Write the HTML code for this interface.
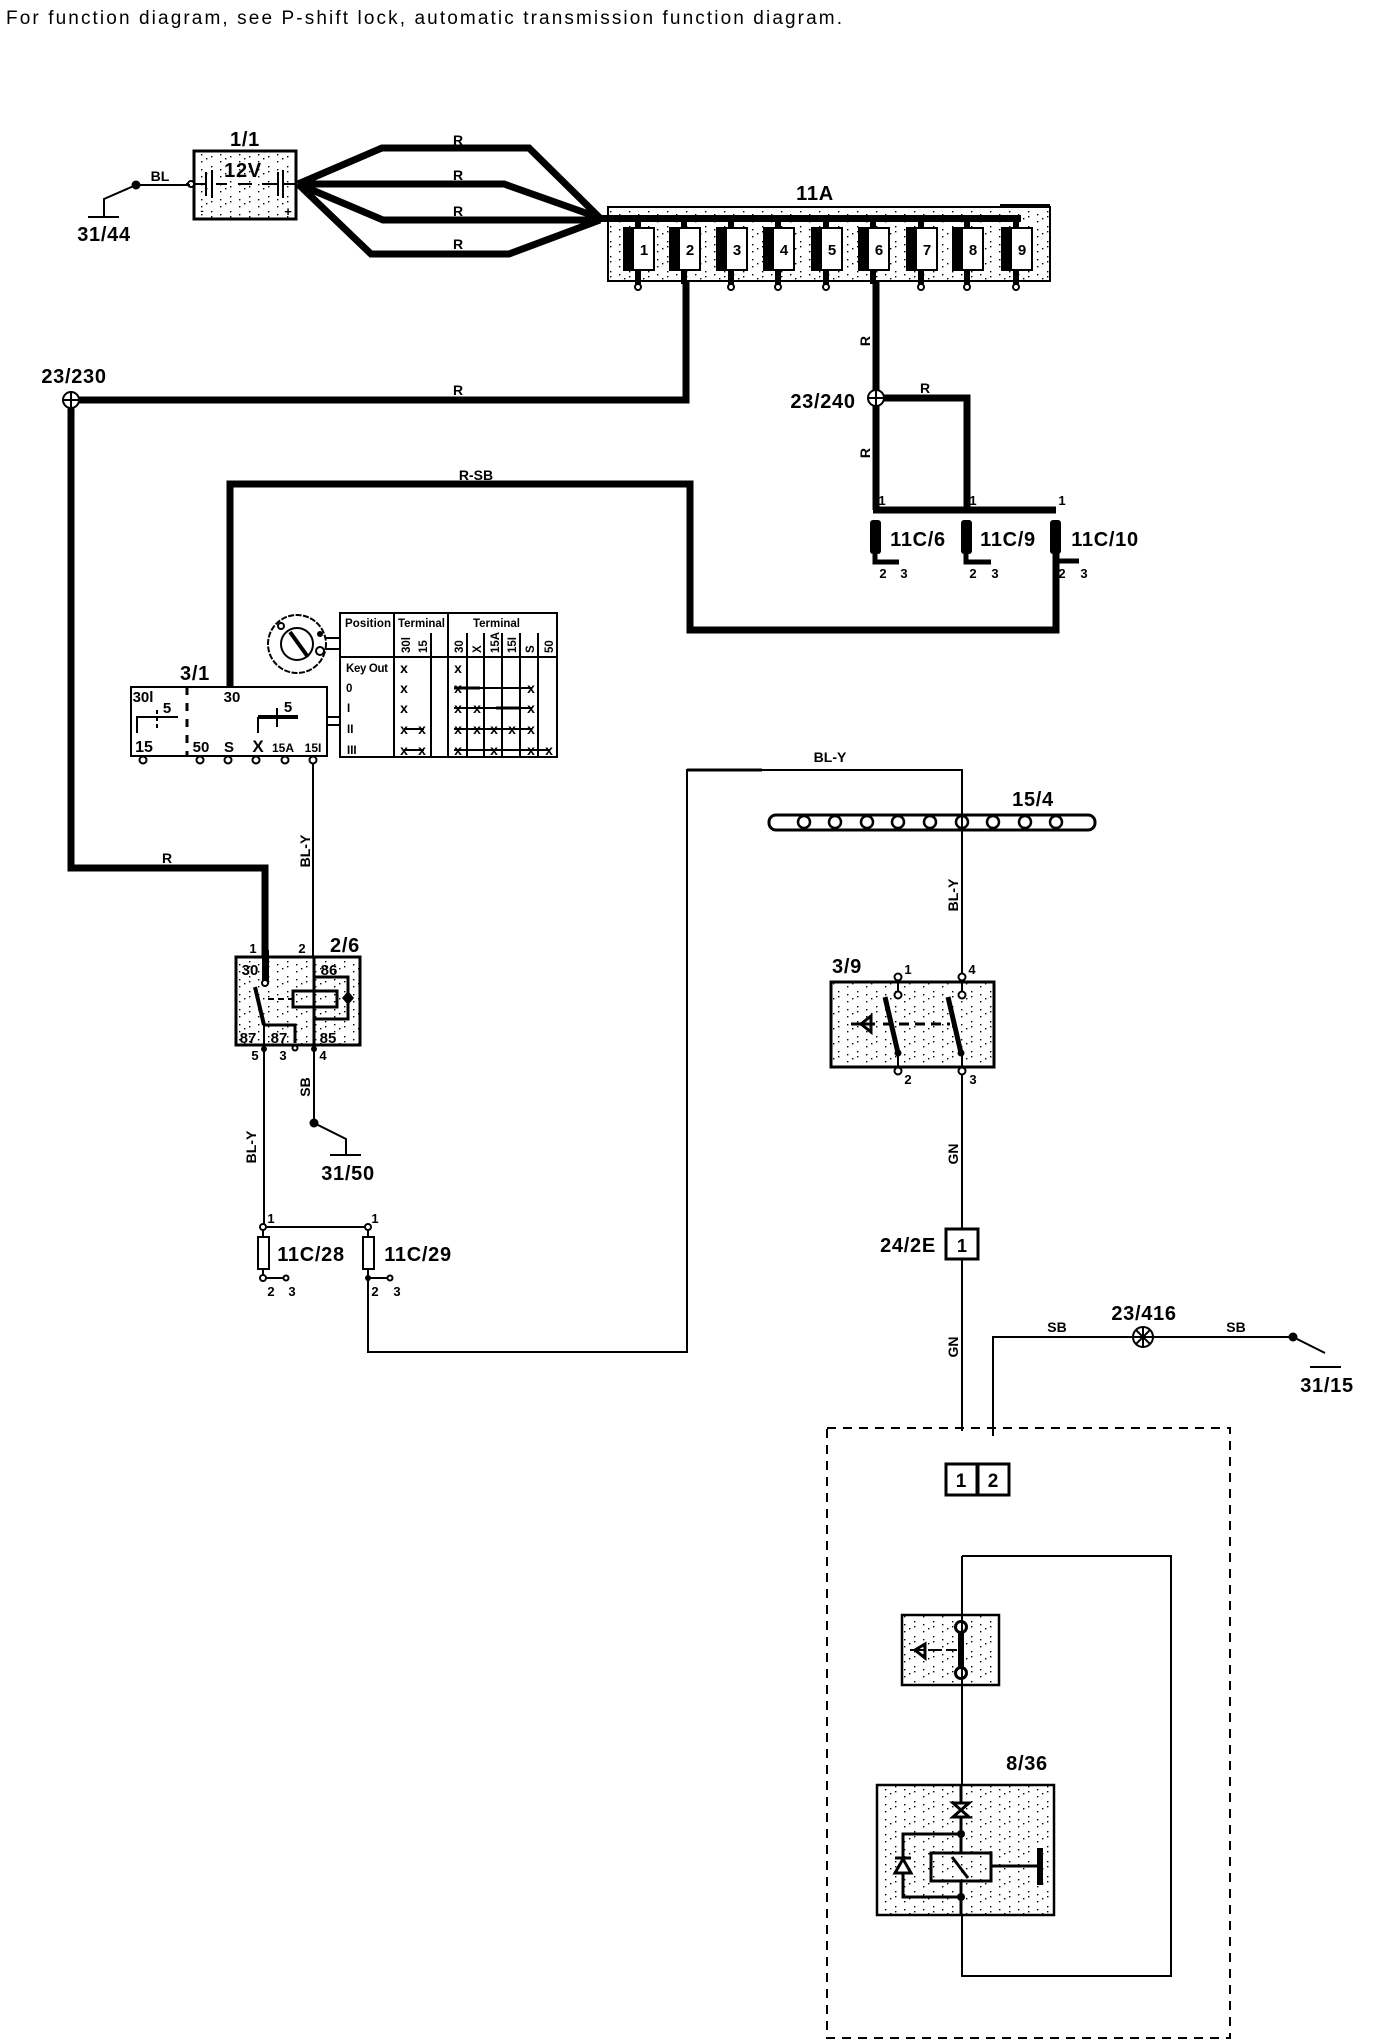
<!DOCTYPE html>
<html><head><meta charset="utf-8"><style>
html,body{margin:0;padding:0;background:#fff}
svg{display:block}
text{font-family:"Liberation Sans",sans-serif;fill:#000}
.b{font-weight:bold;font-size:20px;letter-spacing:.7px;text-anchor:middle}
.s{font-size:14px;text-anchor:middle;font-weight:bold}
.n{font-size:13px;text-anchor:middle;font-weight:bold}
.p{font-size:15px;text-anchor:middle;font-weight:bold}
.tb{font-size:11.5px;font-weight:bold}
.x{font-size:14px;font-weight:bold;text-anchor:middle}
.w{fill:none;stroke:#000;stroke-width:7;stroke-linejoin:miter}
.t{fill:none;stroke:#000;stroke-width:2}
.m{fill:none;stroke:#000;stroke-width:3}
.h{fill:none;stroke:#000;stroke-width:4}
.o{fill:#fff;stroke:#000;stroke-width:2}
.k{fill:#000}
</style></head><body>
<svg width="1376" height="2044" viewBox="0 0 1376 2044" xmlns="http://www.w3.org/2000/svg">
<defs>
<pattern id="d" width="19" height="15" patternUnits="userSpaceOnUse">
<rect width="19" height="15" fill="#fff"/>
<rect x="2" y="1" width="1.4" height="1.4" fill="#000"/><rect x="2" y="6" width="1.4" height="1.4" fill="#000"/>
<rect x="11" y="4" width="1.4" height="1.4" fill="#000"/><rect x="11" y="11" width="1.4" height="1.4" fill="#000"/>
<rect x="16" y="8" width="1.4" height="1.4" fill="#000"/>
</pattern>
<g id="fu"><rect x="-8" y="218" width="6" height="66" fill="#000"/><rect x="-19" y="228" width="30" height="42" fill="#fff" stroke="#000" stroke-width="2"/><rect x="-19" y="228" width="10" height="42" fill="#000"/></g>
<g id="pin"><circle cx="-5" cy="287" r="3" class="o"/></g>
</defs>

<text x="6" y="24" font-size="19" textLength="836">For function diagram, see P-shift lock, automatic transmission function diagram.</text>

<!-- battery -->
<rect x="194" y="151" width="102" height="68" fill="url(#d)" stroke="#000" stroke-width="3"/>
<text class="b" x="245" y="146">1/1</text>
<text class="b" x="243" y="177">12V</text>
<path class="t" d="M186 184H206M212 170V198M206 172V196M216 184H227M238 184H252M262 184H278M278 172V196M283 170V198M283 184H296"/>
<text x="202" y="214" font-size="10" font-weight="bold" text-anchor="middle">-</text>
<text x="288" y="216" font-size="13" font-weight="bold" text-anchor="middle">+</text>
<circle cx="191" cy="184" r="3" class="o"/>
<path class="t" d="M136 185H190"/>
<circle cx="136" cy="185" r="4.5" class="k"/>
<path class="t" d="M136 185L104 199V217M88 217H119"/>
<text class="s" x="160" y="181">BL</text>
<text class="b" x="104" y="241">31/44</text>

<!-- battery wires -->
<path class="w" d="M298 184L382 148H529L600 218"/>
<path class="w" d="M298 184H504L600 218"/>
<path class="w" d="M298 184L383 220H600"/>
<path class="w" d="M298 184L371 254H509L600 220"/>
<text class="s" x="458" y="145">R</text><text class="s" x="458" y="180">R</text>
<text class="s" x="458" y="216">R</text><text class="s" x="458" y="249">R</text>

<!-- 11A -->
<rect x="608" y="207" width="442" height="74" fill="url(#d)" stroke="#000" stroke-width="2"/>
<text class="b" x="815" y="200">11A</text>
<path d="M1000 205H1050" stroke="#000" stroke-width="2"/>
<use href="#fu" x="643"/><use href="#fu" x="689"/><use href="#fu" x="736"/><use href="#fu" x="783"/><use href="#fu" x="831"/><use href="#fu" x="878"/><use href="#fu" x="926"/><use href="#fu" x="972"/><use href="#fu" x="1021"/>
<rect x="598" y="215" width="423" height="7" fill="#000"/>
<use href="#pin" x="643"/><use href="#pin" x="736"/><use href="#pin" x="783"/><use href="#pin" x="831"/><use href="#pin" x="926"/><use href="#pin" x="972"/><use href="#pin" x="1021"/>
<text class="p" x="644" y="255">1</text><text class="p" x="690" y="255">2</text><text class="p" x="737" y="255">3</text><text class="p" x="784" y="255">4</text><text class="p" x="832" y="255">5</text><text class="p" x="879" y="255">6</text><text class="p" x="927" y="255">7</text><text class="p" x="973" y="255">8</text><text class="p" x="1022" y="255">9</text>

<!-- main wires -->
<path class="w" d="M686 281V400H71V868H265V983"/>
<circle cx="71" cy="400" r="8" fill="#fff" stroke="#000" stroke-width="2"/>
<path class="t" d="M63 400H79M71 392V408"/>
<text class="b" x="74" y="383">23/230</text>
<text class="s" x="458" y="395">R</text>
<text class="s" x="167" y="863">R</text>

<path class="w" d="M876 281V510M876 398H967V510M873 510H1056"/>
<circle cx="876" cy="398" r="8" fill="#fff" stroke="#000" stroke-width="2"/>
<path class="t" d="M868 398H884M876 390V406"/>
<text class="b" x="823" y="408">23/240</text>
<text class="s" x="925" y="393">R</text>
<text class="s" transform="translate(870,341) rotate(-90)">R</text>
<text class="s" transform="translate(870,453) rotate(-90)">R</text>

<rect x="870" y="520" width="11" height="34" rx="3" class="k"/>
<rect x="961" y="520" width="11" height="34" rx="3" class="k"/>
<rect x="1050" y="520" width="11" height="34" rx="3" class="k"/>
<path class="h" d="M875 554V562H899" style="stroke-width:5"/>
<path class="h" d="M966 554V562H991" style="stroke-width:5"/>
<path class="h" d="M1055 554V561H1079" style="stroke-width:5"/>
<text class="n" x="882" y="505">1</text><text class="n" x="973" y="505">1</text><text class="n" x="1062" y="505">1</text>
<text class="n" x="883" y="578">2</text><text class="n" x="904" y="578">3</text><text class="n" x="973" y="578">2</text><text class="n" x="995" y="578">3</text><text class="n" x="1062" y="578">2</text><text class="n" x="1084" y="578">3</text>
<text class="b" x="918" y="546">11C/6</text><text class="b" x="1008" y="546">11C/9</text><text class="b" x="1105" y="546">11C/10</text>

<path class="w" d="M230 687V484H690V630H1056V553"/>
<text class="s" x="476" y="480">R-SB</text>

<!-- 3/1 ignition -->
<rect x="131" y="687" width="196" height="69" fill="#fff" stroke="#000" stroke-width="2"/>
<path class="m" d="M187 687V756" stroke-dasharray="8 8"/>
<text class="b" x="195" y="680">3/1</text>
<text class="p" x="143" y="702">30l</text><text class="p" x="232" y="702">30</text>
<text class="p" x="167" y="713">5</text><text class="p" x="288" y="712">5</text>
<text class="p" x="144" y="752" style="font-size:16px">15</text><text class="p" x="201" y="752">50</text><text class="p" x="229" y="752">S</text><text class="p" x="258" y="752" style="font-size:17px">X</text><text class="p" x="283" y="752" style="font-size:12px">15A</text><text class="p" x="313" y="752" style="font-size:12px">15I</text>
<path class="t" d="M137 733V717H178"/>
<path class="t" d="M157 710V728" stroke-dasharray="4 3"/>
<path class="h" d="M258 717H298"/>
<path class="t" d="M258 717V733M277 708V727"/>
<circle cx="143" cy="760" r="3.5" class="o"/><circle cx="200" cy="760" r="3.5" class="o"/><circle cx="228" cy="760" r="3.5" class="o"/><circle cx="256" cy="760" r="3.5" class="o"/><circle cx="285" cy="760" r="3.5" class="o"/><circle cx="313" cy="760" r="3.5" class="o"/>
<path class="t" d="M327 717H341M327 725H341M324 638H341M324 649H341"/>

<!-- key -->
<circle cx="297" cy="644" r="29" fill="#fff" stroke="#000" stroke-width="2" stroke-dasharray="6 1.5"/>
<circle cx="297" cy="644" r="16" class="o"/>
<path d="M290 632L308 657" stroke="#000" stroke-width="4"/>
<circle cx="281" cy="626" r="3" class="o"/><circle cx="320" cy="634" r="3" class="k"/><circle cx="320" cy="651" r="4" class="o"/>

<!-- table -->
<rect x="340" y="613" width="217" height="144" fill="#fff" stroke="#000" stroke-width="2"/>
<path class="t" d="M340 657H557M394 613V757M448 613V757M431 633V757M467 633V757M484 633V757M502 633V757M520 633V757M538 633V757"/>
<text class="tb" x="345" y="627" textLength="46">Position</text>
<text class="tb" x="398" y="627" textLength="47">Terminal</text>
<text class="tb" x="473" y="627" textLength="47">Terminal</text>
<text class="tb" transform="translate(410,653) rotate(-90)">30l</text>
<text class="tb" transform="translate(427,653) rotate(-90)">15</text>
<text class="tb" transform="translate(463,653) rotate(-90)">30</text>
<text class="tb" transform="translate(481,653) rotate(-90)">X</text>
<text class="tb" transform="translate(499,653) rotate(-90)">15A</text>
<text class="tb" transform="translate(516,653) rotate(-90)">15I</text>
<text class="tb" transform="translate(534,653) rotate(-90)">S</text>
<text class="tb" transform="translate(553,653) rotate(-90)">50</text>
<text class="tb" x="346" y="672" textLength="42">Key Out</text>
<text class="tb" x="346" y="692">0</text><text class="tb" x="347" y="712">I</text><text class="tb" x="347" y="733">II</text><text class="tb" x="347" y="754">III</text>
<path class="t" d="M454 688H532M454 708H532M404 729H424M454 729H532M404 750H424M454 750H550"/>
<path d="M454 688H480M496 708H520" stroke="#000" stroke-width="3"/>
<text class="x" x="404" y="673">x</text><text class="x" x="458" y="673">x</text>
<text class="x" x="404" y="693">x</text><text class="x" x="458" y="693">x</text><text class="x" x="531" y="693">x</text>
<text class="x" x="404" y="713">x</text><text class="x" x="458" y="713">x</text><text class="x" x="477" y="713">x</text><text class="x" x="531" y="713">x</text>
<text class="x" x="404" y="734">x</text><text class="x" x="422" y="734">x</text><text class="x" x="458" y="734">x</text><text class="x" x="477" y="734">x</text><text class="x" x="494" y="734">x</text><text class="x" x="512" y="734">x</text><text class="x" x="531" y="734">x</text>
<text class="x" x="404" y="755">x</text><text class="x" x="422" y="755">x</text><text class="x" x="458" y="755">x</text><text class="x" x="494" y="755">x</text><text class="x" x="531" y="755">x</text><text class="x" x="549" y="755">x</text>

<!-- 2/6 relay -->
<path class="t" d="M313 763V957"/>
<text class="s" transform="translate(310,851) rotate(-90)">BL-Y</text>
<rect x="236" y="957" width="124" height="88" fill="url(#d)" stroke="#000" stroke-width="3"/>
<rect x="262" y="950" width="7" height="33" class="k"/>
<circle cx="265" cy="983" r="3" class="o"/>
<text class="n" x="253" y="953">1</text><text class="n" x="302" y="953">2</text>
<text class="b" x="345" y="952">2/6</text>
<text class="p" x="250" y="975">30</text><text class="p" x="329" y="975">86</text>
<text class="p" x="248" y="1043">87</text><text class="p" x="279" y="1043">87</text><text class="p" x="328" y="1043">85</text>
<text class="n" x="255" y="1060">5</text><text class="n" x="283" y="1060">3</text><text class="n" x="323" y="1060">4</text>
<path d="M255 987L264 1025" stroke="#000" stroke-width="4"/>
<path class="m" d="M264 1025H295V1043"/>
<circle cx="295" cy="1048" r="2.5" class="o"/>
<path class="t" d="M268 999H292" stroke-dasharray="6 4"/>
<rect x="293" y="991" width="44" height="16" fill="none" stroke="#000" stroke-width="3"/>
<path class="m" d="M314 957V1050M314 977H348V1019H314"/>
<path d="M348 991L354 998L348 1005L342 998Z" class="k"/>
<path class="t" d="M264 1025V1227"/>
<circle cx="264" cy="1049" r="3" class="k"/><circle cx="314" cy="1049" r="3" class="k"/>
<path class="t" d="M314 1050V1123L346 1139V1155M330 1155H361"/>
<circle cx="314" cy="1123" r="4.5" class="k"/>
<text class="s" transform="translate(310,1087) rotate(-90)">SB</text>
<text class="s" transform="translate(256,1147) rotate(-90)">BL-Y</text>
<text class="b" x="348" y="1180">31/50</text>

<!-- 11C/28,29 -->
<path class="t" d="M263 1227H368M263 1227V1278H285M368 1227V1352H687V770H962V1431"/>
<path d="M687 770H762" stroke="#000" stroke-width="3"/>
<rect x="258" y="1237" width="11" height="32" class="o"/>
<rect x="363" y="1237" width="11" height="32" class="o"/>
<path class="t" d="M368 1278H390"/>
<circle cx="263" cy="1227" r="3" class="o"/><circle cx="368" cy="1227" r="3" class="o"/>
<circle cx="263" cy="1278" r="3" class="o"/><circle cx="368" cy="1278" r="3" class="k"/>
<circle cx="286" cy="1278" r="2.5" class="o"/><circle cx="390" cy="1278" r="2.5" class="o"/>
<text class="n" x="271" y="1223">1</text><text class="n" x="375" y="1223">1</text>
<text class="n" x="271" y="1296">2</text><text class="n" x="292" y="1296">3</text><text class="n" x="375" y="1296">2</text><text class="n" x="397" y="1296">3</text>
<text class="b" x="311" y="1261">11C/28</text><text class="b" x="418" y="1261">11C/29</text>

<text class="s" x="830" y="762">BL-Y</text>

<!-- 15/4 bus -->
<rect x="769" y="815" width="326" height="15" rx="7" fill="#fff" stroke="#000" stroke-width="3"/>
<g fill="#fff" stroke="#000" stroke-width="2.5">
<circle cx="804" cy="822" r="6"/><circle cx="835" cy="822" r="6"/><circle cx="867" cy="822" r="6"/><circle cx="898" cy="822" r="6"/><circle cx="930" cy="822" r="6"/><circle cx="962" cy="822" r="6"/><circle cx="993" cy="822" r="6"/><circle cx="1025" cy="822" r="6"/><circle cx="1056" cy="822" r="6"/>
</g>
<path class="t" d="M962 770V985"/>
<text class="b" x="1033" y="806">15/4</text>
<text class="s" transform="translate(958,895) rotate(-90)">BL-Y</text>

<!-- 3/9 -->
<rect x="831" y="982" width="163" height="85" fill="url(#d)" stroke="#000" stroke-width="3"/>
<path class="t" d="M898 977V995M962 977V995M898 1053V1071M962 1053V1240"/>
<circle cx="898" cy="977" r="3.5" class="o"/><circle cx="962" cy="977" r="3.5" class="o"/>
<circle cx="898" cy="995" r="3.5" class="o"/><circle cx="962" cy="995" r="3.5" class="o"/>
<circle cx="898" cy="1071" r="3.5" class="o"/><circle cx="962" cy="1071" r="3.5" class="o"/>
<path d="M885 997L898 1053M948 997L961 1053" stroke="#000" stroke-width="5"/>
<circle cx="898" cy="1053" r="3.5" class="k"/><circle cx="961" cy="1053" r="3.5" class="k"/>
<path class="m" d="M883 1024H950" stroke-dasharray="10 6"/>
<path class="m" d="M851 1024H875M861 1024L871 1016V1032Z"/>
<text class="b" x="847" y="973">3/9</text>
<text class="n" x="908" y="974">1</text><text class="n" x="972" y="974">4</text><text class="n" x="908" y="1084">2</text><text class="n" x="973" y="1084">3</text>
<text class="s" transform="translate(958,1154) rotate(-90)">GN</text>

<!-- 24/2E -->
<rect x="946" y="1229" width="32" height="30" fill="#fff" stroke="#000" stroke-width="3"/>
<text class="p" x="962" y="1252" style="font-size:18px">1</text>
<text class="b" x="908" y="1252">24/2E</text>
<path class="t" d="M962 1259V1430"/>
<text class="s" transform="translate(958,1347) rotate(-90)">GN</text>

<!-- 23/416 -->
<path class="t" d="M993 1436V1337H1293L1325 1353M1310 1367H1341"/>
<circle cx="1143" cy="1337" r="10" fill="#fff" stroke="#000" stroke-width="2"/>
<path class="t" d="M1133 1337H1153M1143 1327V1347M1136 1330L1150 1344M1150 1330L1136 1344"/>
<circle cx="1293" cy="1337" r="4.5" class="k"/>
<text class="b" x="1144" y="1320">23/416</text>
<text class="s" x="1057" y="1332">SB</text><text class="s" x="1236" y="1332">SB</text>
<text class="b" x="1327" y="1392">31/15</text>

<!-- dashed -->
<rect x="827" y="1428" width="403" height="610" fill="none" stroke="#000" stroke-width="2" stroke-dasharray="9 7"/>

<rect x="946" y="1464" width="31" height="31" fill="#fff" stroke="#000" stroke-width="3"/>
<rect x="978" y="1464" width="31" height="31" fill="#fff" stroke="#000" stroke-width="3"/>
<text class="p" x="961" y="1487" style="font-size:19px">1</text><text class="p" x="993" y="1487" style="font-size:19px">2</text>

<!-- inner loop -->
<path class="t" d="M962 1556H1171V1976H962V1556"/>

<!-- switch box -->
<rect x="902" y="1615" width="97" height="70" fill="url(#d)" stroke="#000" stroke-width="2.5"/>
<path d="M961 1627V1673" stroke="#000" stroke-width="6"/>
<circle cx="961" cy="1627" r="5.5" fill="#fff" stroke="#000" stroke-width="3"/><circle cx="961" cy="1673" r="5.5" fill="#fff" stroke="#000" stroke-width="3"/>
<path class="t" d="M910 1650H957" stroke-dasharray="14 4"/>
<path class="m" d="M915 1650L925 1644V1658Z"/>
<path class="t" d="M962 1556V1790"/>

<!-- 8/36 -->
<text class="b" x="1027" y="1770">8/36</text>
<rect x="877" y="1785" width="177" height="130" fill="url(#d)" stroke="#000" stroke-width="2.5"/>
<path class="m" d="M961 1785V1853M961 1881V1915M961 1834H903V1897H961"/>
<path d="M953 1803H969L953 1817H969Z" fill="#fff" stroke="#000" stroke-width="3"/>
<circle cx="961" cy="1834" r="4" class="k"/><circle cx="961" cy="1897" r="4" class="k"/>
<path d="M895 1873H911L903 1859Z" fill="#fff" stroke="#000" stroke-width="3"/><path d="M895 1858H911" stroke="#000" stroke-width="3"/>
<rect x="931" y="1853" width="60" height="28" fill="none" stroke="#000" stroke-width="3"/>
<path class="m" d="M952 1857L968 1878M991 1866H1037"/>
<rect x="1037" y="1848" width="6" height="37" class="k"/>
<path class="t" d="M962 1915V1976"/>
</svg>
</body></html>
